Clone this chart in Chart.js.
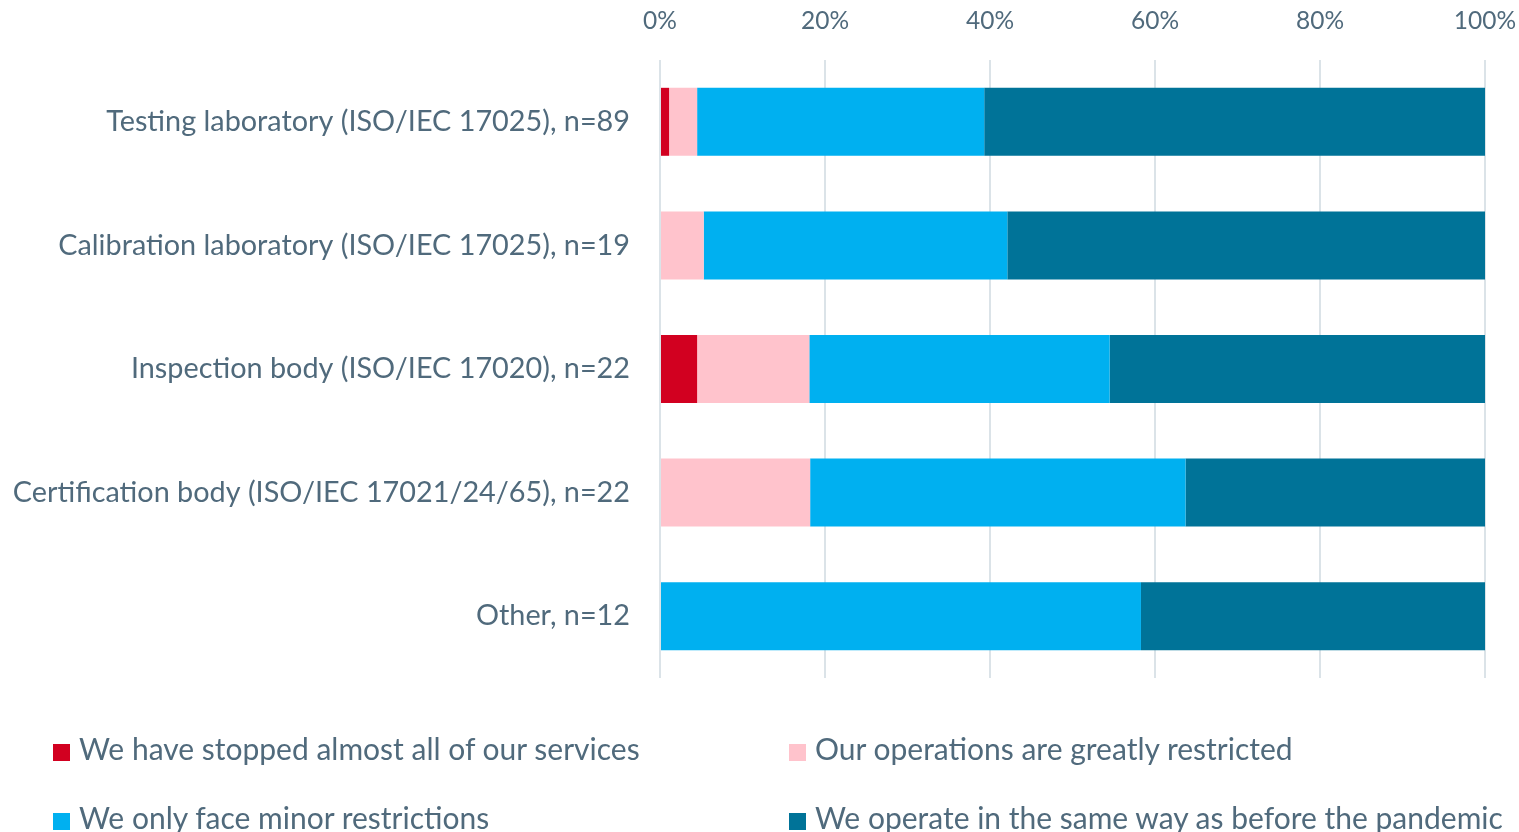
<!DOCTYPE html>
<html>
<head>
<meta charset="utf-8">
<script src="https://cdn.jsdelivr.net/npm/chart.js@4/dist/chart.umd.min.js"></script>
<style>
  html, body { margin: 0; padding: 0; background: #fff; }
  #wrap { position: relative; width: 1519px; height: 832px; overflow: hidden; }
  #legend { position: absolute; left: 0; top: 0; width: 1519px; height: 832px; pointer-events: none; }
  .item { position: absolute; font-family: Lato, sans-serif; font-size: 30px; color: #506a7c; white-space: nowrap; line-height: 30px; }
  .item span.box { display: inline-block; width: 17px; height: 17px; margin-right: 9px; vertical-align: -1px; }
</style>
</head>
<body>
<div id="wrap">
  <canvas id="chart" width="1519" height="832"></canvas>
  <div id="legend"></div>
</div>
<script>
var categories = [
  'Testing laboratory (ISO/IEC 17025), n=89',
  'Calibration laboratory (ISO/IEC 17025), n=19',
  'Inspection body (ISO/IEC 17020), n=22',
  'Certification body (ISO/IEC 17021/24/65), n=22',
  'Other, n=12'
];

var seriesNames = [
  'We have stopped almost all of our services',
  'Our operations are greatly restricted',
  'We only face minor restrictions',
  'We operate in the same way as before the pandemic'
];

// percent of respondents
var stopped = [1.1, 0, 4.5, 0, 0];
var restricted = [3.4, 5.3, 13.6, 18.2, 0];
var minor = [34.8, 36.8, 36.4, 45.5, 58.3];
var same = [60.7, 57.9, 45.5, 36.3, 41.7];

var colors = ['#d20020', '#ffc3cc', '#00b0f0', '#007398'];
var textColor = '#506a7c';
var fontFamily = 'Lato, sans-serif';

var values = [stopped, restricted, minor, same];

var ctx = document.getElementById('chart').getContext('2d');
var chart = new Chart(ctx, {
  type: 'bar',
  data: {
    labels: categories,
    datasets: seriesNames.map(function (name, i) {
      return {
        label: name,
        data: values[i],
        backgroundColor: colors[i],
        borderWidth: 0,
        barPercentage: 0.55,
        categoryPercentage: 1
      };
    })
  },
  options: {
    indexAxis: 'y',
    responsive: false,
    animation: false,
    layout: { padding: { top: 8, right: 34, bottom: 154, left: 0 } },
    plugins: {
      legend: { display: false },
      tooltip: { enabled: false }
    },
    scales: {
      x: {
        position: 'top',
        stacked: true,
        min: 0,
        max: 100,
        ticks: {
          stepSize: 20,
          padding: 24,
          color: textColor,
          font: { family: fontFamily, size: 24.5 },
          callback: function (v) { return v + '%'; }
        },
        grid: { color: '#dbe3e8', lineWidth: 2, drawTicks: false },
        border: { display: false },
        afterFit: function (scale) {
          scale.height = 52;
          scale.paddingLeft = 0;
          scale.paddingRight = 0;
        }
      },
      y: {
        stacked: true,
        ticks: {
          padding: 30,
          color: textColor,
          font: { family: fontFamily, size: 28.8 }
        },
        grid: { display: false, drawTicks: false },
        border: { display: false },
        afterFit: function (scale) {
          scale.width = 660;
          scale.paddingTop = 0;
          scale.paddingBottom = 0;
        }
      }
    }
  }
});

// legend in two columns below the plot
var legend = document.getElementById('legend');
var legendSpots = [[53, 733], [789, 733], [53, 802], [789, 802]];
seriesNames.forEach(function (name, i) {
  var d = document.createElement('div');
  d.className = 'item';
  d.style.left = legendSpots[i][0] + 'px';
  d.style.top = legendSpots[i][1] + 'px';
  d.innerHTML = '<span class="box" style="background:' + colors[i] + '"></span>' + name;
  legend.appendChild(d);
});
</script>
</body>
</html>
